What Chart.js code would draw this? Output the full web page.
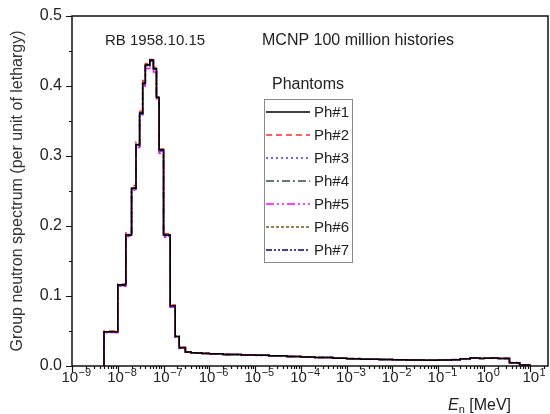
<!DOCTYPE html>
<html>
<head>
<meta charset="utf-8">
<script src="https://cdn.jsdelivr.net/npm/chart.js@4.4.1/dist/chart.umd.min.js"></script>
<style>
  html, body { margin: 0; padding: 0; background: #ffffff; }
  #wrap { width: 550px; height: 414px; }
</style>
</head>
<body>
<div id="wrap"><canvas id="spectrum" width="550" height="414"></canvas></div>
<script>
// bin edges in MeV (histogram groups)
const edges = [5e-9, 1e-8, 1.5e-8, 2e-8, 2.5e-8, 3e-8, 3.5e-8, 4e-8, 5e-8, 6e-8, 7e-8, 8e-8, 1e-7, 1.4e-7, 1.8e-7, 2.2e-7,
  3e-7, 4e-7, 5e-7, 7e-7, 1e-6, 2e-6, 5e-6, 1e-5, 2e-5, 5e-5, 1e-4, 2e-4, 5e-4, 1e-3, 2e-3, 5e-3, 1e-2, 2e-2, 5e-2,
  0.1, 0.2, 0.3, 0.5, 0.8, 1, 1.5, 2, 3.6, 6, 10];

// group values per phantom (one value per bin)
const ph1 = [0.049, 0.116, 0.187, 0.254, 0.316, 0.361, 0.404, 0.430, 0.437, 0.425, 0.384, 0.309, 0.187, 0.086, 0.042, 0.026,
  0.0200, 0.0190, 0.0185, 0.0180, 0.0175, 0.0165, 0.0158, 0.0152, 0.0145, 0.0135, 0.0130, 0.0122, 0.0112, 0.0105, 0.0097, 0.0092, 0.0088, 0.0084, 0.0082, 0.0085, 0.0090, 0.0102, 0.0115, 0.0108, 0.0112, 0.0116, 0.0108, 0.0047, 0.0016];
const ph2 = [0.050, 0.117, 0.190, 0.258, 0.320, 0.364, 0.408, 0.432, 0.438, 0.427, 0.386, 0.310, 0.189, 0.087, 0.043, 0.027,
  0.0202, 0.0191, 0.0186, 0.0181, 0.0176, 0.0166, 0.0158, 0.0153, 0.0146, 0.0136, 0.0131, 0.0122, 0.0113, 0.0106, 0.0098, 0.0092, 0.0089, 0.0085, 0.0082, 0.0086, 0.0091, 0.0103, 0.0116, 0.0109, 0.0113, 0.0117, 0.0109, 0.0048, 0.0016];
const ph3 = [0.048, 0.115, 0.186, 0.253, 0.314, 0.360, 0.402, 0.428, 0.435, 0.423, 0.382, 0.307, 0.186, 0.085, 0.042, 0.026,
  0.0199, 0.0189, 0.0184, 0.0179, 0.0174, 0.0165, 0.0157, 0.0151, 0.0144, 0.0135, 0.0129, 0.0121, 0.0112, 0.0104, 0.0097, 0.0091, 0.0088, 0.0084, 0.0081, 0.0085, 0.0090, 0.0101, 0.0114, 0.0108, 0.0111, 0.0115, 0.0107, 0.0047, 0.0015];
const ph4 = [0.049, 0.116, 0.188, 0.255, 0.317, 0.362, 0.405, 0.429, 0.436, 0.424, 0.383, 0.308, 0.187, 0.086, 0.042, 0.026,
  0.0200, 0.0190, 0.0185, 0.0180, 0.0175, 0.0165, 0.0158, 0.0152, 0.0145, 0.0135, 0.0130, 0.0122, 0.0112, 0.0105, 0.0097, 0.0092, 0.0088, 0.0084, 0.0082, 0.0085, 0.0090, 0.0102, 0.0115, 0.0108, 0.0112, 0.0116, 0.0108, 0.0047, 0.0016];
const ph5 = [0.048, 0.114, 0.185, 0.251, 0.312, 0.357, 0.400, 0.425, 0.432, 0.420, 0.379, 0.304, 0.184, 0.084, 0.041, 0.025,
  0.0201, 0.0191, 0.0186, 0.0181, 0.0176, 0.0166, 0.0159, 0.0153, 0.0146, 0.0136, 0.0131, 0.0123, 0.0113, 0.0106, 0.0098, 0.0093, 0.0089, 0.0085, 0.0083, 0.0086, 0.0092, 0.0104, 0.0118, 0.0111, 0.0115, 0.0119, 0.0110, 0.0049, 0.0017];
const ph6 = [0.049, 0.116, 0.187, 0.254, 0.315, 0.361, 0.403, 0.430, 0.437, 0.425, 0.384, 0.309, 0.187, 0.086, 0.042, 0.026,
  0.0200, 0.0190, 0.0185, 0.0180, 0.0175, 0.0165, 0.0158, 0.0152, 0.0145, 0.0135, 0.0130, 0.0122, 0.0112, 0.0105, 0.0097, 0.0092, 0.0088, 0.0084, 0.0082, 0.0085, 0.0090, 0.0102, 0.0115, 0.0108, 0.0112, 0.0116, 0.0108, 0.0047, 0.0016];
const ph7 = [0.049, 0.115, 0.187, 0.253, 0.315, 0.360, 0.403, 0.431, 0.436, 0.424, 0.383, 0.308, 0.186, 0.085, 0.042, 0.026,
  0.0200, 0.0190, 0.0185, 0.0180, 0.0174, 0.0165, 0.0157, 0.0152, 0.0145, 0.0135, 0.0130, 0.0121, 0.0112, 0.0105, 0.0097, 0.0092, 0.0088, 0.0084, 0.0082, 0.0085, 0.0090, 0.0102, 0.0115, 0.0108, 0.0112, 0.0116, 0.0108, 0.0047, 0.0016];

const phantomLabels = ["Ph#1", "Ph#2", "Ph#3", "Ph#4", "Ph#5", "Ph#6", "Ph#7"];
const xDecades = [-9, -8, -7, -6, -5, -4, -3, -2, -1, 0, 1];
const yTicks = [0, 0.1, 0.2, 0.3, 0.4, 0.5];

// line styles
const lineColors = ["#000000", "#ff2a2a", "#3333ff", "#2f4f4f", "#ff00ff", "#6b5a1e", "#000080"];
const lineDashes = [[], [6, 4], [2, 3], [8, 3, 2, 3], [8, 3, 2, 3, 2, 3], [3, 2], [6, 2, 2, 2, 2, 2]];

const FONT = "'Liberation Sans', Arial, sans-serif";

// turn group values into points for a stepped line
function toSteps(values) {
    const pts = [{ x: edges[0], y: 0 }];
    values.forEach((v, i) => pts.push({ x: edges[i], y: v }));
    pts.push({ x: edges[edges.length - 1], y: 0 });
    return pts;
}

// draws frame, ticks, x labels, notes and the legend box
const decorPlugin = {
    id: "decor",
    afterDraw(chart) {
        const ctx = chart.ctx;
        const a = chart.chartArea;
        const xs = chart.scales.x;
        const ys = chart.scales.y;
        ctx.save();

        // frame
        ctx.strokeStyle = "#111";
        ctx.lineWidth = 1.5;
        ctx.strokeRect(a.left, a.top, a.right - a.left, a.bottom - a.top);

        // x ticks (major + minor)
        ctx.lineWidth = 1.2;
        ctx.beginPath();
        for (let e = -9; e <= 1; e++) {
            for (let m = 1; m <= 9; m++) {
                const v = m * Math.pow(10, e);
                if (v > xs.max) continue;
                const px = Math.round(xs.getPixelForValue(v)) + 0.5;
                ctx.moveTo(px, a.bottom);
                ctx.lineTo(px, a.bottom + (m === 1 ? 6 : 3));
            }
        }
        const px20 = Math.round(xs.getPixelForValue(20)) + 0.5;
        ctx.moveTo(px20, a.bottom);
        ctx.lineTo(px20, a.bottom + 3);

        // y ticks
        for (let i = 0; i <= 10; i++) {
            const py = Math.round(ys.getPixelForValue(i * 0.05)) + 0.5;
            ctx.moveTo(a.left, py);
            ctx.lineTo(a.left - (i % 2 === 0 ? 6 : 3), py);
        }
        ctx.stroke();

        // x tick labels 10^n
        ctx.fillStyle = "#222";
        ctx.textBaseline = "alphabetic";
        ctx.textAlign = "left";
        xDecades.forEach(e => {
            const px = xs.getPixelForValue(Math.pow(10, e));
            const exp = (e < 0 ? "\u2212" : "") + Math.abs(e);
            ctx.font = "15px " + FONT;
            const w1 = ctx.measureText("10").width;
            ctx.font = "11px " + FONT;
            const w2 = ctx.measureText(exp).width;
            const x0 = px - (w1 + w2) / 2 + 4;
            ctx.font = "15px " + FONT;
            ctx.fillText("10", x0, a.bottom + 16);
            ctx.font = "11px " + FONT;
            ctx.fillText(exp, x0 + w1 + 0.5, a.bottom + 10);
        });

        // x axis title: E_n [MeV]
        let tx = a.left + 376;
        const ty = a.bottom + 44;
        ctx.font = "italic 16px " + FONT;
        ctx.fillText("E", tx, ty);
        tx += ctx.measureText("E").width;
        ctx.font = "11px " + FONT;
        ctx.fillText("n", tx, ty + 3);
        tx += ctx.measureText("n").width;
        ctx.font = "16px " + FONT;
        ctx.fillText(" [MeV]", tx, ty);

        // notes
        ctx.font = "15px " + FONT;
        ctx.fillText("RB 1958.10.15", a.left + 33, a.top + 29);
        ctx.font = "16px " + FONT;
        ctx.fillText("MCNP 100 million histories", a.left + 190, a.top + 29);

        // legend
        const lx = a.left + 192, ly = a.top + 83, lw = 88, lh = 163;
        ctx.textAlign = "center";
        ctx.font = "16px " + FONT;
        ctx.fillText("Phantoms", lx + lw / 2, ly - 10);
        ctx.strokeStyle = "#8a8a8a";
        ctx.lineWidth = 1;
        ctx.strokeRect(lx + 0.5, ly + 0.5, lw, lh);
        ctx.textAlign = "left";
        ctx.textBaseline = "middle";
        ctx.font = "15px " + FONT;
        chart.data.datasets.forEach((ds, i) => {
            const ry = ly + 13 + i * 23;
            ctx.strokeStyle = ds.borderColor;
            ctx.lineWidth = 1.6;
            ctx.setLineDash(ds.borderDash);
            ctx.beginPath();
            ctx.moveTo(lx + 2, ry);
            ctx.lineTo(lx + 46, ry);
            ctx.stroke();
            ctx.setLineDash([]);
            ctx.fillStyle = "#222";
            ctx.fillText(ds.label, lx + 50, ry + 1);
        });

        ctx.restore();
    }
};

document.addEventListener("DOMContentLoaded", () => {
    const series = [ph1, ph2, ph3, ph4, ph5, ph6, ph7];
    const datasets = series.map((vals, i) => ({
        label: phantomLabels[i],
        data: toSteps(vals),
        borderColor: lineColors[i],
        borderDash: lineDashes[i],
        borderWidth: 1.5,
        pointRadius: 0,
        stepped: true,
        fill: false
    }));

    const ctx = document.getElementById("spectrum").getContext("2d");
    new Chart(ctx, {
        type: "line",
        data: { datasets: datasets },
        options: {
            responsive: false,
            animation: false,
            devicePixelRatio: 1,
            layout: { padding: { top: 16, right: 2, left: 0, bottom: 0 } },
            plugins: {
                legend: { display: false },
                tooltip: { enabled: false }
            },
            scales: {
                x: {
                    type: "logarithmic",
                    min: 1e-9,
                    max: 25,
                    grid: { display: false },
                    border: { display: false },
                    ticks: { display: false },
                    afterFit: scale => { scale.height = 48; }
                },
                y: {
                    min: 0,
                    max: 0.5,
                    afterBuildTicks: scale => { scale.ticks = yTicks.map(v => ({ value: v })); },
                    grid: { display: false },
                    border: { display: false },
                    ticks: {
                        color: "#222",
                        padding: 2,
                        font: { family: FONT, size: 16 },
                        callback: v => v.toFixed(1)
                    },
                    title: {
                        display: true,
                        text: "Group neutron spectrum (per unit of lethargy)",
                        color: "#333",
                        font: { family: FONT, size: 16 },
                        padding: { top: 8, bottom: 0 }
                    },
                    afterFit: scale => { scale.width = 72; }
                }
            }
        },
        plugins: [decorPlugin]
    });
});
</script>
</body>
</html>
